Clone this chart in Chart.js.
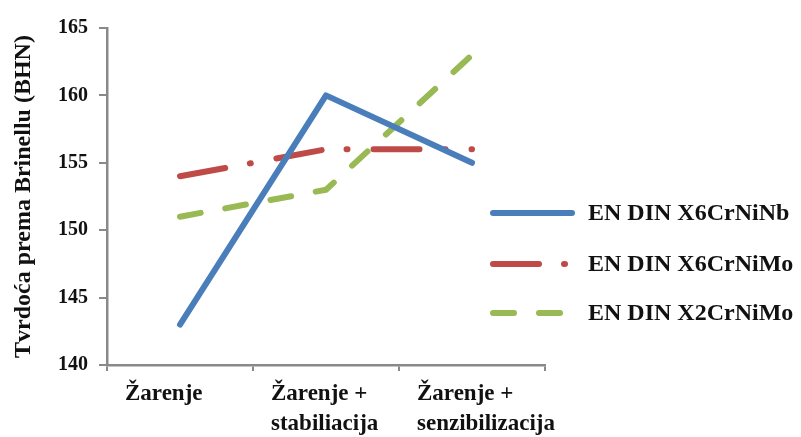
<!DOCTYPE html>
<html>
<head>
<meta charset="utf-8">
<script src="https://cdn.jsdelivr.net/npm/chart.js@4.4.0/dist/chart.umd.min.js"></script>
<style>
  html, body { margin: 0; padding: 0; background: #fff; }
</style>
</head>
<body>
<canvas id="c" width="801" height="437"></canvas>
<script>
const categories = ['Žarenje', ['Žarenje +', 'stabiliacija'], ['Žarenje +', 'senzibilizacija']];
const seriesNames = ['EN DIN X6CrNiNb', 'EN DIN X6CrNiMo', 'EN DIN X2CrNiMo'];
const x6CrNiNb = [143, 160, 155];
const x6CrNiMo = [154, 156, 156];
const x2CrNiMo = [151, 153, 163];
const yMin = 140, yMax = 165, yStep = 5;

const axisGray = '#898989';
const textColor = '#111';
const serif = '"Liberation Serif", "Times New Roman", serif';

// legend drawn by hand, it sits partly under the plot like in the original
const sideLegend = {
  id: 'sideLegend',
  afterDraw(chart) {
    const ctx = chart.ctx;
    const rows = [213, 264, 313];
    chart.data.datasets.forEach((ds, i) => {
      const y = rows[i];
      ctx.save();
      ctx.strokeStyle = ds.borderColor;
      ctx.lineWidth = 6;
      ctx.lineCap = 'round';
      ctx.setLineDash(ds.borderDash || []);
      ctx.beginPath();
      ctx.moveTo(493, y);
      ctx.lineTo(572, y);
      ctx.stroke();
      ctx.setLineDash([]);
      ctx.fillStyle = textColor;
      ctx.font = 'bold 24px ' + serif;
      ctx.textBaseline = 'middle';
      ctx.fillText(ds.label, 588, y + 1);
      ctx.restore();
    });
  }
};

new Chart(document.getElementById('c'), {
  type: 'line',
  data: {
    labels: categories,
    datasets: [
      { label: seriesNames[0], data: x6CrNiNb, borderColor: '#4a7ebb', borderDash: [] },
      { label: seriesNames[1], data: x6CrNiMo, borderColor: '#be4b48', borderDash: [46, 25, 1, 26] },
      { label: seriesNames[2], data: x2CrNiMo, borderColor: '#98b954', borderDash: [21, 25] }
    ]
  },
  options: {
    responsive: false,
    animation: false,
    devicePixelRatio: 1,
    elements: {
      line: { borderWidth: 6, tension: 0, borderCapStyle: 'round', borderJoinStyle: 'round', fill: false },
      point: { radius: 0, hoverRadius: 0 }
    },
    layout: { padding: { top: 28, right: 256, bottom: 0, left: 0 } },
    plugins: { legend: { display: false }, tooltip: { enabled: false } },
    scales: {
      x: {
        offset: true,
        grid: { offset: true, drawOnChartArea: false, tickLength: 6, color: axisGray, lineWidth: 2 },
        border: { color: axisGray, width: 2.5 },
        ticks: {
          color: textColor,
          font: { family: serif, size: 23, weight: 'bold', lineHeight: 1.3 },
          padding: 8, maxRotation: 0, autoSkip: false,
          align: 'start', labelOffset: -55
        },
        afterFit(s) { s.height = 72; }
      },
      y: {
        min: yMin,
        max: yMax,
        grid: { drawOnChartArea: false, tickLength: 8, color: axisGray, lineWidth: 2 },
        border: { color: axisGray, width: 2.5 },
        ticks: { stepSize: yStep, color: textColor, font: { family: serif, size: 20, weight: 'bold' }, padding: 11 },
        title: {
          display: true,
          text: 'Tvrdoća prema Brinellu (BHN)',
          color: textColor,
          font: { family: serif, size: 24, weight: 'bold' },
          padding: { top: 9, bottom: 0 }
        },
        afterFit(s) { s.width = 107; }
      }
    }
  },
  plugins: [sideLegend]
});
</script>
</body>
</html>
